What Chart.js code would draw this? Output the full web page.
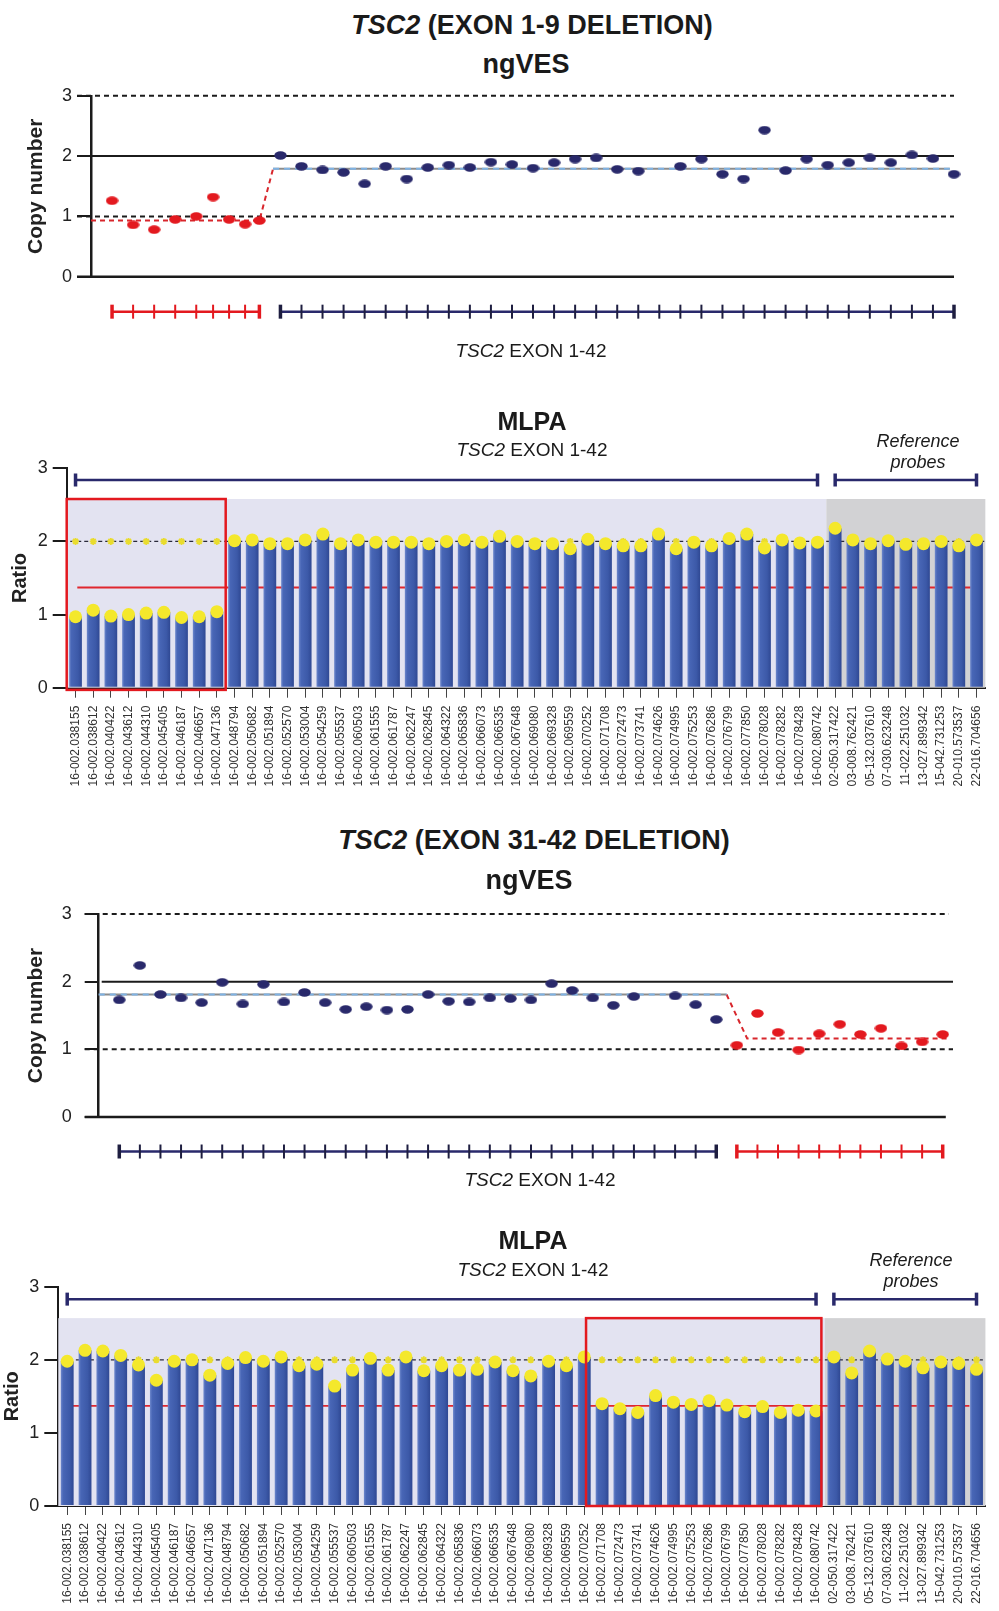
<!DOCTYPE html>
<html>
<head>
<meta charset="utf-8">
<script src="https://cdn.jsdelivr.net/npm/chart.js@4.4.1/dist/chart.umd.min.js"></script>
<style>
  body { margin: 0; background: #fff; font-family: "Liberation Sans", Arial, sans-serif; color: #1a1a1a; }
  #page { position: relative; width: 999px; height: 1611px; overflow: hidden; }
  canvas { position: absolute; left: 0; }
  .t { position: absolute; transform: translate(-50%, -50%); white-space: nowrap; line-height: 1; z-index: 2; }
  .h1 { font-size: 27px; font-weight: bold; }
  .mlpa { font-size: 25px; font-weight: bold; }
  .sub { font-size: 19px; }
  .ref { font-size: 18px; font-style: italic; text-align: center; line-height: 21px; }
</style>
</head>
<body>
<div id="page">
  <div class="t h1" style="left:532px;top:25px"><i>TSC2</i> (EXON 1-9 DELETION)</div>
  <div class="t h1" style="left:526px;top:64px">ngVES</div>
  <div class="t sub" style="left:531px;top:350px"><i>TSC2</i> EXON 1-42</div>

  <div class="t mlpa" style="left:532px;top:421px">MLPA</div>
  <div class="t sub" style="left:532px;top:449px"><i>TSC2</i> EXON 1-42</div>
  <div class="t ref" style="left:918px;top:452px">Reference<br>probes</div>

  <div class="t h1" style="left:534px;top:840px"><i>TSC2</i> (EXON 31-42 DELETION)</div>
  <div class="t h1" style="left:529px;top:880px">ngVES</div>
  <div class="t sub" style="left:540px;top:1179px"><i>TSC2</i> EXON 1-42</div>

  <div class="t mlpa" style="left:533px;top:1240px">MLPA</div>
  <div class="t sub" style="left:533px;top:1269px"><i>TSC2</i> EXON 1-42</div>
  <div class="t ref" style="left:911px;top:1271px">Reference<br>probes</div>

  <canvas id="ng1" width="999" height="300" style="top:80px"></canvas>
  <canvas id="ml1" width="999" height="400" style="top:400px"></canvas>
  <canvas id="ng2" width="999" height="320" style="top:880px"></canvas>
  <canvas id="ml2" width="999" height="401" style="top:1210px"></canvas>
</div>
<script>
// ---- ngVES, exon 1-9 deletion ----
const ng1Pos = [0, 1, 2, 3, 4, 4.8, 5.56, 6.32, 7,
  8, 9, 10, 11, 12, 13, 14, 15, 16, 17, 18, 19, 20, 21, 22, 23, 24, 25, 26, 27, 28, 29,
  30, 31, 32, 33, 34, 35, 36, 37, 38, 39, 40];
const ng1CN = [1.26, 0.86, 0.78, 0.95, 1.00, 1.32, 0.95, 0.87, 0.93,
  2.01, 1.83, 1.77, 1.73, 1.54, 1.83, 1.62, 1.81, 1.85, 1.81, 1.90, 1.86, 1.80, 1.89, 1.95, 1.97,
  1.78, 1.75, null, 1.83, 1.95, 1.70, 1.62, 2.43, 1.76, 1.95, 1.85, 1.89, 1.97, 1.89, 2.02, 1.96, 1.70];
const ng1Del = [0, 8];
const ng1FitDelX = [-1, 7, 7.65];
const ng1FitDelY = [0.93, 0.93, 1.79];
const ng1FitNormX = [7.65, 39.8];
const ng1FitNormY = [1.79, 1.79];

// ---- ngVES, exon 31-42 deletion ----
const ng2Pos = [0, 1, 2, 3, 4, 5, 6, 7, 8, 9, 10, 11, 12, 13, 14, 15, 16, 17, 18, 19, 20,
  21, 22, 23, 24, 25, 26, 27, 28, 29, 30, 31, 32, 33, 34, 35, 36, 37, 38, 39, 40];
const ng2CN = [1.73, 2.24, 1.81, 1.76, 1.69, 1.99, 1.67, 1.96, 1.70, 1.84, 1.69, 1.59, 1.63, 1.58, 1.59,
  1.81, 1.71, 1.70, 1.76, 1.75, 1.73, 1.97, 1.87, 1.76, 1.65, 1.78, null, 1.79, 1.66, 1.44,
  1.06, 1.53, 1.25, 0.99, 1.23, 1.37, 1.22, 1.31, 1.05, 1.11, 1.22];
const ng2Del = [30, 40];
const ng2FitNormX = [-1, 29.5];
const ng2FitNormY = [1.81, 1.81];
const ng2FitDelX = [29.5, 30.5, 40.2];
const ng2FitDelY = [1.81, 1.16, 1.16];

const cnTicks = [0, 1, 2, 3];

// ---- MLPA probes ----
const probes = ["16-002.038155", "16-002.038612", "16-002.040422", "16-002.043612", "16-002.044310",
  "16-002.045405", "16-002.046187", "16-002.046657", "16-002.047136", "16-002.048794", "16-002.050682",
  "16-002.051894", "16-002.052570", "16-002.053004", "16-002.054259", "16-002.055537", "16-002.060503",
  "16-002.061555", "16-002.061787", "16-002.062247", "16-002.062845", "16-002.064322", "16-002.065836",
  "16-002.066073", "16-002.066535", "16-002.067648", "16-002.069080", "16-002.069328", "16-002.069559",
  "16-002.070252", "16-002.071708", "16-002.072473", "16-002.073741", "16-002.074626", "16-002.074995",
  "16-002.075253", "16-002.076286", "16-002.076799", "16-002.077850", "16-002.078028", "16-002.078282",
  "16-002.078428", "16-002.080742",
  "02-050.317422", "03-008.762421", "05-132.037610", "07-030.623248", "11-022.251032", "13-027.899342",
  "15-042.731253", "20-010.573537", "22-016.704656"];
const nTsc2 = 43;
const ml1Ratio = [0.97, 1.06, 0.98, 1.00, 1.02, 1.03, 0.96, 0.97, 1.04, 2.01, 2.02, 1.97, 1.97, 2.02,
  2.10, 1.97, 2.02, 1.99, 1.99, 1.99, 1.97, 2.00, 2.02, 1.99, 2.07, 2.00, 1.97, 1.97, 1.90, 2.03,
  1.97, 1.94, 1.94, 2.10, 1.90, 1.99, 1.94, 2.04, 2.10, 1.91, 2.02, 1.98, 1.99,
  2.18, 2.02, 1.97, 2.01, 1.96, 1.97, 2.00, 1.94, 2.02];
const ml2Ratio = [1.98, 2.13, 2.12, 2.06, 1.93, 1.72, 1.98, 2.00, 1.79, 1.95, 2.03, 1.98, 2.04, 1.92,
  1.94, 1.64, 1.86, 2.02, 1.86, 2.04, 1.85, 1.92, 1.86, 1.87, 1.97, 1.85, 1.78, 1.98, 1.92, 2.04,
  1.40, 1.33, 1.28, 1.51, 1.42, 1.39, 1.44, 1.38, 1.29, 1.36, 1.28, 1.31, 1.30,
  2.04, 1.82, 2.12, 2.01, 1.98, 1.89, 1.97, 1.95, 1.87];
const ml1Box = [-0.5, 8.5];
const ml2Box = [29.1, 42.3];
const mlExpected = 2;
const mlLower = 1.37;

const NAVY = "#29296b";
const RED = "#e3191f";
const INK = "#1b1b1b";

// draws shaded bands, reference lines, ruler ticks and highlight boxes through the scales
const decor = {
  id: "decor",
  beforeDatasetsDraw(chart, args, o) {
    const { ctx, chartArea: a, scales: { x, y } } = chart;
    ctx.save();
    (o.bands || []).forEach(b => {
      const x0 = x.getPixelForValue(b.x0), x1 = x.getPixelForValue(b.x1);
      const y0 = y.getPixelForValue(b.y0), y1 = y.getPixelForValue(b.y1);
      ctx.fillStyle = b.color;
      ctx.fillRect(x0, y1, x1 - x0, y0 - y1);
    });
    (o.lines || []).forEach(l => {
      const py = y.getPixelForValue(l.y);
      const x0 = l.x0 != null ? x.getPixelForValue(l.x0) : a.left - (l.ext || 0);
      const x1 = l.x1 != null ? x.getPixelForValue(l.x1) : a.right;
      ctx.strokeStyle = l.color || INK;
      ctx.lineWidth = l.width || 2;
      ctx.setLineDash(l.dash || []);
      ctx.beginPath();
      ctx.moveTo(x0, py);
      ctx.lineTo(x1, py);
      ctx.stroke();
    });
    ctx.restore();
  },
  afterDatasetsDraw(chart, args, o) {
    const { ctx, scales: { x, y } } = chart;
    ctx.save();
    // tick marks of the exon rulers sit outside the chart area, so draw them from the points
    chart.data.datasets.forEach((ds, i) => {
      if (!ds.rulerTicks) return;
      const pts = chart.getDatasetMeta(i).data;
      pts.forEach((p, j) => {
        ctx.strokeStyle = ds.rulerTicks;
        ctx.lineWidth = (j === 0 || j === pts.length - 1) ? 3.5 : 2;
        ctx.beginPath();
        ctx.moveTo(p.x, p.y - 7);
        ctx.lineTo(p.x, p.y + 7);
        ctx.stroke();
      });
    });
    (o.boxes || []).forEach(b => {
      const x0 = x.getPixelForValue(b.x0), x1 = x.getPixelForValue(b.x1);
      const y0 = y.getPixelForValue(b.y0), y1 = y.getPixelForValue(b.y1);
      ctx.strokeStyle = RED;
      ctx.lineWidth = 2.5;
      ctx.strokeRect(x0, y1, x1 - x0, y0 - y1);
    });
    ctx.restore();
  }
};

function ellipse(color, w, h) {
  const c = document.createElement("canvas");
  c.width = w;
  c.height = h;
  const g = c.getContext("2d");
  g.fillStyle = color;
  g.beginPath();
  g.ellipse(w / 2, h / 2, w / 2 - 0.3, h / 2 - 0.3, 0, 0, Math.PI * 2);
  g.fill();
  return c;
}
const dotNavy = ellipse(NAVY, 13, 9);
const dotRed = ellipse(RED, 13, 9);

function xy(xs, ys) {
  return xs.map((x, i) => ({ x: x, y: ys[i] }));
}

function ngves(id, o) {
  const inDel = i => i >= o.del[0] && i <= o.del[1];
  const norm = [], del = [], rulerN = [], rulerD = [];
  o.pos.forEach((x, i) => {
    (inDel(i) ? rulerD : rulerN).push({ x: x, y: o.rulerY });
    if (o.cn[i] == null) return;
    (inDel(i) ? del : norm).push({ x: x, y: o.cn[i] });
  });
  const ruler = (data, color, tick) => ({
    type: "line", data: data, clip: false, order: 5,
    borderColor: color, borderWidth: 2.5, pointRadius: 0,
    rulerTicks: tick
  });
  new Chart(document.getElementById(id), {
    type: "scatter",
    data: {
      datasets: [
        { data: norm, pointStyle: dotNavy, clip: false, order: 0 },
        { data: del, pointStyle: dotRed, clip: false, order: 0 },
        { type: "line", data: xy(o.fitNormX, o.fitNormY), borderColor: "#8c8c8c", borderWidth: 2,
          pointRadius: 0, clip: false, order: 3 },
        { type: "line", data: xy(o.fitNormX, o.fitNormY), borderColor: "#7fb2e3", borderWidth: 2,
          borderDash: [6, 5], pointRadius: 0, clip: false, order: 2 },
        { type: "line", data: xy(o.fitDelX, o.fitDelY), borderColor: "#d8262c", borderWidth: 2,
          borderDash: [5, 4], pointRadius: 0, clip: false, order: 2 },
        ruler(rulerN, NAVY, "#1e1e40"),
        ruler(rulerD, RED, RED)
      ]
    },
    options: {
      responsive: false,
      animation: false,
      events: [],
      layout: { padding: { left: 0, right: o.padRight, top: o.padTop, bottom: o.padBottom } },
      plugins: {
        legend: { display: false },
        tooltip: { enabled: false },
        decor: { lines: o.lines }
      },
      scales: {
        x: { type: "linear", min: -1, max: o.xMax, display: false },
        y: {
          min: 0, max: 3,
          afterFit: s => { s.width = o.axisLeft; },
          afterBuildTicks: s => { s.ticks = cnTicks.map(v => ({ value: v })); },
          ticks: { color: "#222", padding: o.tickPad, font: { family: "Liberation Sans", size: 18 } },
          grid: { drawOnChartArea: false, tickLength: 14, color: INK, lineWidth: 2 },
          border: { color: INK, width: 2.5 },
          title: { display: true, text: "Copy number", color: "#222",
            font: { family: "Liberation Sans", size: 21, weight: "bold" }, padding: { top: 24 } }
        }
      }
    },
    plugins: [decor]
  });
}

ngves("ng1", {
  pos: ng1Pos, cn: ng1CN, del: ng1Del,
  fitNormX: ng1FitNormX, fitNormY: ng1FitNormY, fitDelX: ng1FitDelX, fitDelY: ng1FitDelY,
  rulerY: -0.58, xMax: 40, axisLeft: 91, padRight: 45, padTop: 15.3, padBottom: 103.3, tickPad: 5,
  lines: [
    { y: 3, dash: [5, 4], ext: 14 },
    { y: 2 },
    { y: 1, dash: [5, 4], ext: 14 },
    { y: 0, ext: 14, width: 2.5 }
  ]
});

ngves("ng2", {
  pos: ng2Pos, cn: ng2CN, del: ng2Del,
  fitNormX: ng2FitNormX, fitNormY: ng2FitNormY, fitDelX: ng2FitDelX, fitDelY: ng2FitDelY,
  rulerY: -0.51, xMax: 40.5, axisLeft: 98.7, padRight: 46, padTop: 34, padBottom: 83, tickPad: 13,
  lines: [
    { y: 3, dash: [5, 4], ext: 14, x1: 40.3 },
    { y: 2, ext: -3 },
    { y: 1, dash: [5, 4], ext: 14 },
    { y: 0, ext: 14, width: 2.5, x1: 40.15 }
  ]
});

function barFill(c) {
  const chart = c.chart;
  const x = chart.scales.x;
  if (!chart.chartArea || !x) return "#3d5bad";
  const cx = x.getPixelForValue(c.dataIndex);
  const hw = (x.width / probes.length) * 0.72 / 2;
  const g = chart.ctx.createLinearGradient(cx - hw, 0, cx + hw, 0);
  g.addColorStop(0, "#6e88cc");
  g.addColorStop(0.18, "#4866b6");
  g.addColorStop(0.7, "#3c59a8");
  g.addColorStop(1, "#2f4893");
  return g;
}

function mlpa(id, ratio, o) {
  const ruler = (i0, i1) => ({
    type: "line", order: 1, clip: false,
    data: [{ x: probes[i0], y: o.rulerY }, { x: probes[i1], y: o.rulerY }],
    borderColor: NAVY, borderWidth: 2.5,
    pointStyle: "line", pointRotation: 90, pointRadius: 6.5,
    pointBorderColor: NAVY, pointBorderWidth: 3.5
  });
  new Chart(document.getElementById(id), {
    type: "bar",
    data: {
      labels: probes,
      datasets: [
        { type: "line", data: ratio, showLine: false, order: 0,
          pointRadius: 6.5, pointBackgroundColor: "#f4e82c", pointBorderWidth: 0 },
        { type: "bar", data: ratio, order: 2, backgroundColor: barFill,
          barPercentage: 0.72, categoryPercentage: 1 },
        { type: "line", data: probes.map(() => mlExpected), showLine: false, order: 3,
          pointStyle: "star", pointRadius: 3.5, pointBorderColor: "#e9dc2e", pointBorderWidth: 1.8 },
        ruler(0, nTsc2 - 1),
        ruler(nTsc2, probes.length - 1)
      ]
    },
    options: {
      responsive: false,
      animation: false,
      events: [],
      layout: { padding: { left: 0, right: o.padRight, top: o.padTop, bottom: 0 } },
      plugins: {
        legend: { display: false },
        tooltip: { enabled: false },
        decor: {
          bands: [
            { x0: -0.5, x1: nTsc2 - 0.5, y0: 0, y1: o.bgTop, color: "#e3e3f1" },
            { x0: nTsc2 - 0.5, x1: probes.length - 0.5, y0: 0, y1: o.bgTop, color: "#d2d2d4" }
          ],
          lines: [
            { y: mlExpected, x0: -0.3, x1: probes.length - 0.5, color: "#2a2a3a", dash: [4, 3], width: 1.3 },
            { y: mlLower, x0: o.redX[0], x1: o.redX[1], color: "#e0262e", width: 1.8 }
          ],
          boxes: [{ x0: o.box[0], x1: o.box[1], y0: o.boxBottom, y1: o.bgTop }]
        }
      },
      scales: {
        x: {
          afterFit: s => { s.height = o.xHeight; },
          ticks: { autoSkip: false, maxRotation: 90, minRotation: 90, padding: 8, color: "#333",
            font: { family: "Liberation Sans", size: 12 } },
          grid: { drawOnChartArea: false, offset: false, tickLength: o.tickLen, color: "#444", lineWidth: 1 },
          border: { color: INK, width: 2 }
        },
        y: {
          min: 0, max: 3,
          afterFit: s => { s.width = o.axisLeft; },
          afterBuildTicks: s => { s.ticks = cnTicks.map(v => ({ value: v })); },
          ticks: { color: "#222", padding: 5, font: { family: "Liberation Sans", size: 18 } },
          grid: { drawOnChartArea: false, tickLength: 14, color: INK, lineWidth: 2 },
          border: { color: INK, width: 2 },
          title: { display: true, text: "Ratio", color: "#222",
            font: { family: "Liberation Sans", size: 20, weight: "bold" }, padding: { top: o.titlePad } }
        }
      }
    },
    plugins: [decor]
  });
}

mlpa("ml1", ml1Ratio, {
  axisLeft: 66.7, padRight: 5, padTop: 68.3, xHeight: 112.3, tickLen: 10, titlePad: 8,
  rulerY: 2.84, bgTop: 2.58, box: ml1Box, boxBottom: -0.03, redX: [0.1, 50.7]
});

mlpa("ml2", ml2Ratio, {
  axisLeft: 58.3, padRight: 10, padTop: 76.7, xHeight: 105, tickLen: 9, titlePad: 0,
  rulerY: 2.83, bgTop: 2.57, box: ml2Box, boxBottom: 0, redX: [0.3, 50.6]
});
</script>
</body>
</html>
